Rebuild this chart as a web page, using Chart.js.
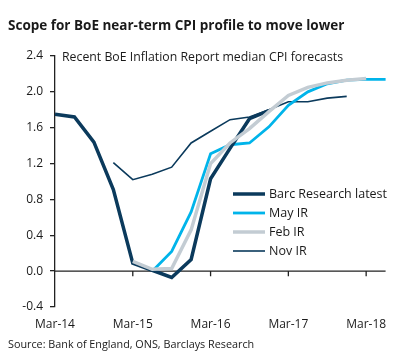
<!DOCTYPE html>
<html>
<head>
<meta charset="utf-8">
<script src="https://cdn.jsdelivr.net/npm/chart.js@4.4.1/dist/chart.umd.min.js"></script>
<style>
  html, body { margin: 0; padding: 0; background: #fff; }
  #wrap { width: 398px; height: 362px; position: relative; }
</style>
</head>
<body>
<div id="wrap"><canvas id="cpi"></canvas></div>
<script>
// quarterly points, Mar-14 .. Jun-18
const quarters = ['Mar-14', 'Jun-14', 'Sep-14', 'Dec-14', 'Mar-15', 'Jun-15', 'Sep-15', 'Dec-15',
                  'Mar-16', 'Jun-16', 'Sep-16', 'Dec-16', 'Mar-17', 'Jun-17', 'Sep-17', 'Dec-17',
                  'Mar-18', 'Jun-18']
const barcLatest = [1.75, 1.72, 1.44, 0.91, 0.09, 0.01, -0.07, 0.13, 1.03, 1.37, 1.70, 1.79,
                    null, null, null, null, null, null]
const mayIR = [null, null, null, null, null, 0.00, 0.22, 0.66, 1.31, 1.41, 1.43, 1.61,
               1.85, 2.00, 2.09, 2.13, 2.14, 2.14]
const febIR = [null, null, null, null, 0.11, 0.02, 0.03, 0.46, 1.20, 1.43, 1.59, 1.78,
               1.96, 2.05, 2.10, 2.13, 2.15, null]
const novIR = [null, null, null, 1.21, 1.02, 1.08, 1.16, 1.43, 1.56, 1.69, 1.72, 1.80,
               1.89, 1.89, 1.93, 1.95, null, null]
const seriesNames = ['Barc Research latest', 'May IR', 'Feb IR', 'Nov IR']

const titleText = 'Scope for BoE near-term CPI profile to move lower'
const subTitleText = 'Recent BoE Inflation Report median CPI forecasts'
const sourceText = 'Source: Bank of England, ONS, Barclays Research'

const FONT = '"Open Sans", "Noto Sans", sans-serif'
const INK = '#1a1a1a'

// texts, zero line, x tick marks and the legend box
const extras = {
    id: 'extras',
    beforeDatasetsDraw(chart) {
        const {ctx, chartArea, scales} = chart
        const y0 = scales.y.getPixelForValue(0)
        ctx.save()
        ctx.strokeStyle = '#222'
        ctx.lineWidth = 1.3
        ctx.beginPath()
        ctx.moveTo(chartArea.left, y0)
        ctx.lineTo(chartArea.right, y0)
        quarters.forEach((q, i) => {
            if (i > 0 && q.startsWith('Mar')) {
                const x = scales.x.getPixelForValue(i)
                ctx.moveTo(x, y0)
                ctx.lineTo(x, y0 + 5)
            }
        })
        ctx.stroke()
        ctx.restore()
    },
    afterDraw(chart) {
        const {ctx, chartArea} = chart
        ctx.save()
        ctx.fillStyle = INK
        ctx.textBaseline = 'middle'
        ctx.textAlign = 'left'
        ctx.font = 'bold 13.5px ' + FONT
        ctx.fillText(titleText, 8, 26)
        ctx.font = '12.3px ' + FONT
        ctx.fillText(subTitleText, chartArea.left + 7, chartArea.top + 1)
        ctx.font = '10.8px ' + FONT
        ctx.fillText(sourceText, 8, 345)

        // legend
        const lx = chartArea.left + 178
        let ly = chartArea.top + 138
        chart.data.datasets.forEach(ds => {
            ctx.strokeStyle = ds.borderColor
            ctx.lineWidth = ds.borderWidth
            ctx.beginPath()
            ctx.moveTo(lx, ly)
            ctx.lineTo(lx + 32, ly)
            ctx.stroke()
            ctx.fillStyle = INK
            ctx.font = '12.5px ' + FONT
            ctx.fillText(ds.label, lx + 36, ly)
            ly += 19
        })
        ctx.restore()
    }
}

function makeLine(label, values, color, width, order) {
    return {
        label: label,
        data: values,
        borderColor: color,
        backgroundColor: color,
        borderWidth: width,
        pointRadius: 0,
        tension: 0,
        fill: false,
        order: order,
    }
}

new Chart(document.getElementById('cpi'), {
    type: 'line',
    data: {
        labels: quarters,
        datasets: [
            makeLine(seriesNames[0], barcLatest, '#0b3a5c', 3.5, 1),
            makeLine(seriesNames[1], mayIR, '#00b4ea', 2.8, 2),
            makeLine(seriesNames[2], febIR, '#c3ccd3', 3.5, 0),
            makeLine(seriesNames[3], novIR, '#0b3a5c', 1.6, 3),
        ],
    },
    options: {
        responsive: true,
        maintainAspectRatio: false,
        animation: false,
        layout: {padding: {left: 8, right: 12.4, top: 56, bottom: 27}},
        plugins: {
            legend: {display: false},
            tooltip: {enabled: false},
        },
        scales: {
            x: {
                type: 'category',
                offset: false,
                grid: {display: false, drawTicks: false},
                border: {display: false},
                ticks: {
                    autoSkip: false,
                    maxRotation: 0,
                    padding: 10,
                    color: INK,
                    font: {family: FONT, size: 12},
                    callback: (v, i) => quarters[i].startsWith('Mar') ? quarters[i] : '',
                },
                afterFit: (scale) => { scale.height = 28 },
            },
            y: {
                min: -0.4,
                max: 2.4,
                grid: {display: true, drawOnChartArea: false, drawTicks: true, tickLength: 5, color: '#222', lineWidth: 1.3},
                border: {display: true, color: '#222', width: 1.3},
                ticks: {
                    stepSize: 0.4,
                    padding: 7,
                    color: INK,
                    font: {family: FONT, size: 12},
                    callback: (v) => (Math.abs(v) < 1e-9 ? 0 : v).toFixed(1),
                },
                afterFit: (scale) => { scale.width = 47 },
            },
        },
    },
    plugins: [extras],
})
</script>
</body>
</html>
